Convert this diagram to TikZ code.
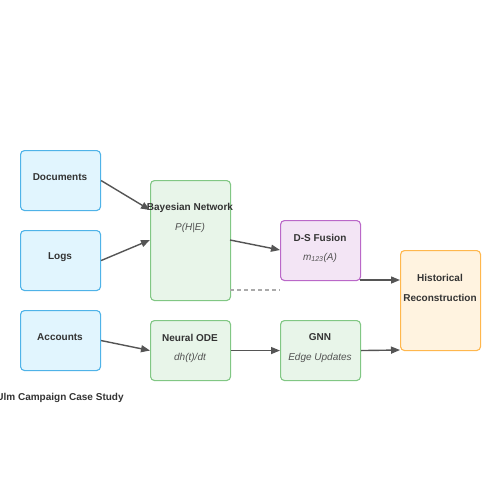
\documentclass[tikz,border=0pt]{standalone}
\usepackage{fontspec}
\setmainfont{Liberation Sans}
\usetikzlibrary{arrows.meta}
\definecolor{txt}{HTML}{333333}
\definecolor{arr}{HTML}{555555}
\definecolor{bfill}{HTML}{E1F5FE}\definecolor{bdraw}{HTML}{4FB3E8}
\definecolor{gfill}{HTML}{E8F5E9}\definecolor{gdraw}{HTML}{81C784}
\definecolor{pfill}{HTML}{F3E5F5}\definecolor{pdraw}{HTML}{BA68C8}
\definecolor{ofill}{HTML}{FFF3E0}\definecolor{odraw}{HTML}{FFB74D}
\definecolor{dash}{HTML}{AAAAAA}
\tikzset{
  box/.style={draw, line width=1.1pt, rounded corners=4pt, inner sep=0pt, anchor=north west},
  bluebox/.style={box, fill=bfill, draw=bdraw, minimum width=80pt, minimum height=60pt},
  greenbox/.style={box, fill=gfill, draw=gdraw, minimum width=80pt},
  purplebox/.style={box, fill=pfill, draw=pdraw, minimum width=80pt, minimum height=60pt},
  orangebox/.style={box, fill=ofill, draw=odraw, minimum width=80pt, minimum height=100pt},
  ttl/.style={font=\fontsize{10}{12}\selectfont\bfseries, text=txt, inner sep=0pt, yshift=-1.5pt},
  sub/.style={font=\fontsize{10}{12}\selectfont\itshape, text=txt!85!white, inner sep=0pt, yshift=-1.5pt},
  conn/.style={draw=arr, line width=1.4pt, -{Triangle[length=9pt,width=7pt]}},
}
\begin{document}
\begin{tikzpicture}[x=1pt,y=-1pt]
\useasboundingbox (0,0) rectangle (500,500);
% boxes
\node[bluebox] (docs) at (20,150) {};
\node[bluebox] (logs) at (20,230) {};
\node[bluebox] (acc) at (20,310) {};
\node[greenbox, minimum height=120pt] (bayes) at (150,180) {};
\node[greenbox, minimum height=60pt] (ode) at (150,320) {};
\node[purplebox] (ds) at (280,220) {};
\node[greenbox, minimum height=60pt] (gnn) at (280,320) {};
\node[orangebox] (hist) at (400,250) {};
% texts
\node[ttl] (tdocs) at (60,176) {Documents};
\node[ttl] (tlogs) at (60,256) {Logs};
\node[ttl] (tacc) at (60,336) {Accounts};
\node[ttl] (tbayes) at (190,206) {Bayesian Network};
\node[sub] (sbayes) at (190,226) {P(H|E)};
\node[ttl] (tode) at (190,336) {Neural ODE};
\node[sub] (sode) at (190,356) {dh(t)/dt};
\node[ttl] (tds) at (320,236) {D-S Fusion};
\node[sub] (sds) at (320,256) {m\textsubscript{123}(A)};
\node[ttl] (tgnn) at (320,336) {GNN};
\node[sub] (sgnn) at (320,356) {Edge Updates};
\node[ttl] (thist1) at (440,276) {Historical};
\node[ttl] (thist2) at (440,296) {Reconstruction};
\node[ttl] (title) at (60,396) {Ulm Campaign Case Study};
% connectors
\coordinate (b1) at (150,210);
\coordinate (b2) at (150,240);
\coordinate (b3) at (230,240);
\coordinate (b4) at (230,290);
\coordinate (d1) at (280,250);
\coordinate (d2) at (280,290);
\coordinate (d3) at (360,280);
\coordinate (h1) at (400,280);
\coordinate (h2) at (400,350);
\draw[conn] (docs.east) -- (b1);
\draw[conn] (logs.east) -- (b2);
\draw[conn] (acc.east) -- (ode.west);
\draw[conn] (b3) -- (d1);
\draw[draw=dash, line width=1.2pt, dash pattern=on 4pt off 3pt] (b4) -- (d2);
\draw[conn] (ode.east) -- (gnn.west);
\draw[conn] (d3) -- (h1);
\draw[conn] (gnn.east) -- (h2);
\end{tikzpicture}
\end{document}
